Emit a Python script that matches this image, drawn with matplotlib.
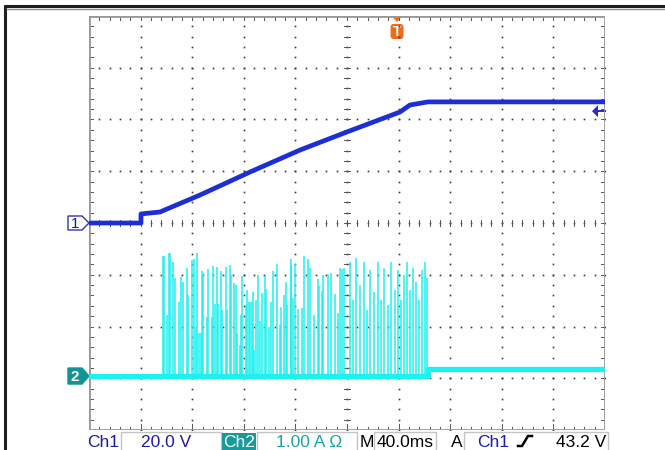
import matplotlib
matplotlib.use("Agg")
import matplotlib.pyplot as plt
from matplotlib.patches import Rectangle, Polygon, FancyBboxPatch

plt.rcParams['font.family'] = ['Liberation Sans', 'DejaVu Sans']

# time base: 40 ms/div, 10 divisions; Ch1 20 V/div, Ch2 1 A/div
t_div = 40.0
v_div = 20.0
a_div = 1.0

# Ch1 voltage (ms, V)
ch1_t = [0, 40.3, 40.3, 55.0, 86.0, 124.8, 163.6, 200.0, 241.1, 248.8, 262.8, 400]
ch1_v = [0, 0, 3.5, 4.25, 10.8, 19.7, 28.2, 35.2, 42.9, 45.6, 46.8, 46.8]

# Ch2 current baseline (ms, A)
ch2_t = [0, 262.8, 262.8, 400]
ch2_a = [0, 0, 0.13, 0.13]

# Ch2 current pulses (ms, peak A)
spike_t = [57.1, 58.1, 60.7, 62.0, 62.8, 64.9, 66.4, 69.8, 71.3, 72.9,
           76.2, 77.0, 80.1, 81.2, 82.9, 84.0, 85.3, 86.6, 87.8, 88.6,
           91.2, 92.0, 95.1, 95.9, 97.4, 99.2, 100.0, 102.6, 103.1, 106.2,
           107.2, 109.5, 110.3, 112.4, 114.0, 114.7, 117.1, 117.8, 118.6, 121.9,
           122.3, 123.8, 124.8, 126.1, 127.4, 128.1, 129.5, 131.2, 132.6, 133.9,
           136.4, 137.4, 139.8, 140.9, 142.6, 145.5, 147.8, 148.6, 150.9, 152.7,
           153.7, 156.4, 156.8, 157.9, 159.9, 162.3, 164.9, 166.9, 169.8, 171.6,
           174.7, 177.3, 178.3, 180.4, 181.6, 185.5, 187.6, 190.7, 193.3, 194.3,
           196.4, 197.4, 202.3, 204.7, 207.0, 210.1, 213.2, 215.5, 217.8, 220.9,
           224.0, 226.4, 228.7, 231.8, 234.1, 237.2, 239.5, 241.9, 244.2, 246.5,
           248.8, 251.2, 253.5, 255.8, 258.1, 260.5, 262.0]
spike_a = [2.31, 2.32, 1.18, 2.38, 2.38, 2.21, 1.89, 1.44, 1.92, 1.82,
           2.08, 1.57, 2.24, 2.26, 0.95, 2.37, 0.83, 0.83, 2.02, 1.99,
           1.15, 2.06, 1.15, 2.13, 1.40, 2.11, 1.40, 2.02, 1.28, 2.10,
           1.28, 2.14, 1.95, 1.79, 1.76, 0.83, 0.60, 1.18, 1.93, 1.37,
           1.66, 1.44, 1.44, 1.44, 1.63, 0.50, 1.47, 1.95, 1.07, 1.60,
           1.93, 1.68, 0.95, 1.44, 2.03, 2.16, 0.99, 1.33, 1.57, 1.82,
           1.37, 2.14, 2.27, 1.50, 2.16, 1.29, 1.31, 2.31, 2.26, 2.08,
           1.18, 1.87, 1.73, 1.65, 1.95, 1.98, 2.00, 1.58, 1.22, 2.08,
           2.06, 2.08, 2.20, 1.47, 2.28, 1.76, 2.20, 1.28, 2.05, 1.62,
           2.20, 1.47, 2.09, 1.37, 2.20, 1.66, 2.05, 1.47, 1.95, 2.20,
           1.66, 2.09, 1.82, 1.47, 2.05, 2.20, 1.89]

trig_t = 238.8
trig_level = 43.2

status_left = [("Ch1", 87, '#1c1ca0'), ("M", 360, 'black'), ("A", 451, 'black'), ("Ch1", 477, '#1c1cb0')]

BLUE = '#1e2ed6'
CYAN = '#1ef0f0'
TEAL = '#119494'
ORANGE = '#f26b1d'

fig = plt.figure(figsize=(6.65, 4.5), dpi=100)
deco = fig.add_axes([0, 0, 1, 1], zorder=0)
deco.set_xlim(0, 665)
deco.set_ylim(450, 0)
deco.axis('off')

ax1 = fig.add_axes([89 / 665, 20 / 450, 516 / 665, 414 / 450], zorder=1)
ax1.patch.set_alpha(0)
ax1.set_xlim(0, 10 * t_div)
ax1.set_ylim(-4 * v_div, 4 * v_div)
ax1.axis('off')
ax2 = ax1.twinx()
ax2.set_ylim(-1.043 * a_div, 6.957 * a_div)
ax2.axis('off')

# graticule
mx = t_div / 5
my = v_div / 5
for k in range(1, 10):
    x = k * t_div
    ys = [-4 * v_div + j * my for j in range(41)]
    ax1.plot([x] * len(ys), ys, ls='none', marker='s', ms=1.2, mew=0, color='#3a3a3a', zorder=1)
for k in range(-3, 4):
    y = k * v_div
    xs = [j * mx for j in range(51)]
    ax1.plot(xs, [y] * len(xs), ls='none', marker='s', ms=1.2, mew=0, color='#3a3a3a', zorder=1)
dx = 400 / 516 * 3
dy = 160 / 414 * 3
for j in range(41):
    y = -4 * v_div + j * my
    ax1.plot([5 * t_div - dx, 5 * t_div + dx], [y, y], color='#555555', lw=0.7, zorder=1)
    ax1.plot([0, 4 * dx / 3], [y, y], color='#555555', lw=0.7, zorder=1)
    ax1.plot([400 - 4 * dx / 3, 400], [y, y], color='#555555', lw=0.7, zorder=1)
for j in range(51):
    x = j * mx
    ax1.plot([x, x], [-dy, dy], color='#555555', lw=0.7, zorder=1)
    ax1.plot([x, x], [80, 80 - 4 * dy / 3], color='#555555', lw=0.7, zorder=1)
    ax1.plot([x, x], [-80, -80 + (6 if j % 5 == 0 else 3) * dy / 3], color='#555555', lw=0.7, zorder=1)
for xs, ys in [([0, 0], [-80, 80]), ([400, 400], [-80, 80]), ([0, 400], [80, 80]), ([0, 400], [-80, -80])]:
    ax1.plot(xs, ys, color='#999999', lw=2.0, zorder=1, solid_capstyle='butt')

# traces
ax1.plot(ch1_t, ch1_v, color=BLUE, lw=3.4, zorder=3, solid_joinstyle='round')
ax2.vlines(spike_t, 0, spike_a, color=CYAN, lw=1.1, zorder=2)
ax2.plot(ch2_t, ch2_a, color=CYAN, lw=3.8, zorder=3)


def to_px(ax, x, y):
    return deco.transData.inverted().transform(ax.transData.transform((x, y)))


# channel ground markers
_, y1 = to_px(ax1, 0, 0)
deco.add_patch(Polygon([[68, y1 - 7], [82, y1 - 7], [89, y1], [82, y1 + 7], [68, y1 + 7]],
                       closed=True, facecolor='white', edgecolor='#3035b0', lw=1.0, zorder=5))
deco.text(75, y1 + 0.5, "1", color='#1a1a9a', fontsize=11, ha='center', va='center', zorder=6)
_, y2 = to_px(ax2, 0, 0)
deco.add_patch(Polygon([[68, y2 - 8], [82, y2 - 8], [89, y2], [82, y2 + 8], [68, y2 + 8]],
                       closed=True, facecolor=TEAL, edgecolor=TEAL, lw=1.0, zorder=5))
deco.text(75, y2 + 0.5, "2", color='white', fontsize=11, fontweight='bold', ha='center', va='center', zorder=6)

# trigger position marker
xt, _ = to_px(ax1, trig_t, 0)
deco.add_patch(Polygon([[xt - 5.5, 16], [xt + 5.5, 16], [xt, 22]], closed=True, facecolor=ORANGE, edgecolor='none', zorder=5))
deco.add_patch(FancyBboxPatch((xt - 6.5, 24), 13, 15, boxstyle='round,pad=0,rounding_size=3',
                              facecolor=ORANGE, edgecolor='none', zorder=5))
deco.text(xt, 32, "T", color='white', fontsize=10, fontweight='bold', ha='center', va='center', zorder=6)

# trigger level marker
_, yl = to_px(ax1, 0, trig_level)
deco.add_patch(Polygon([[592, yl], [598, yl - 6], [598, yl + 6]], closed=True, facecolor='#2a2ad0', edgecolor='none', zorder=5))
deco.plot([598, 605], [yl, yl], color='#2a2ad0', lw=1.4, zorder=5)

# outer frame
deco.plot([5, 5], [5, 450], color='#1e1e1e', lw=2.2, solid_capstyle='butt')
deco.plot([4, 665], [6, 6], color='#1e1e1e', lw=2.2, solid_capstyle='butt')
deco.plot([6, 665], [8.5, 8.5], color='#8a8a8a', lw=1.0, solid_capstyle='butt')

# status bar
for x0, x1 in [(121, 221), (257, 357), (374, 436), (464, 608)]:
    deco.add_patch(Rectangle((x0, 432), x1 - x0, 20, facecolor='white', edgecolor='#c4c4c4', lw=1.0))
deco.add_patch(Rectangle((222, 433), 34, 18, facecolor='#169a9a', edgecolor='none'))
fs = 12.5
for s, x, c in status_left:
    deco.text(x, 447, s, color=c, fontsize=fs, ha='left', va='baseline')
deco.text(166, 447, "20.0 V", color='#1c1ca0', fontsize=fs, ha='center', va='baseline')
deco.text(239, 447, "Ch2", color='white', fontsize=fs, ha='center', va='baseline')
deco.text(309, 447, "1.00 A \u03a9", color='#1aa5a5', fontsize=fs, ha='center', va='baseline')
deco.text(405, 447, "40.0ms", color='black', fontsize=fs, ha='center', va='baseline')
deco.text(606, 447, "43.2 V", color='black', fontsize=fs, ha='right', va='baseline')
deco.plot([518, 522, 528, 532], [446, 446, 436, 436], color='black', lw=1.8)

fig.savefig("out.png", dpi=100)
